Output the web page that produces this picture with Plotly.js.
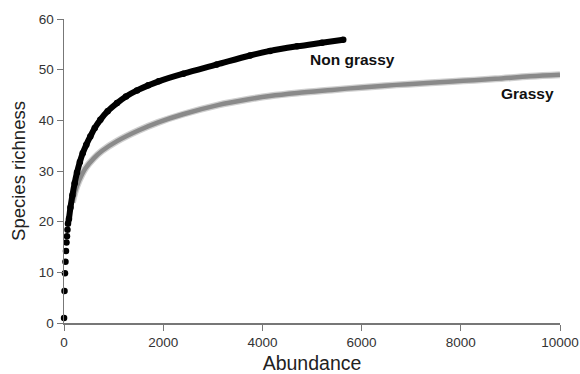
<!DOCTYPE html>
<html>
<head>
<meta charset="utf-8">
<script src="https://cdn.plot.ly/plotly-3.0.1.min.js"></script>
<style>html,body{margin:0;padding:0;background:#fff;}#chart{width:580px;height:374px;}</style>
</head>
<body>
<div id="chart"></div>
<script>
// Non grassy rarefaction curve (abundance, species richness)
const nonGrassyN = [1, 10, 20, 30, 40, 50, 60, 70, 80, 100, 130, 170, 215, 262, 320, 377, 450, 530, 620, 732, 880, 1069, 1250, 1472, 1700, 1909, 2406, 3078, 3750, 4153, 4700, 5200, 5630];
const nonGrassyS = [1, 6.3, 9.8, 12.1, 14.2, 15.9, 17.1, 18.4, 19.6, 20.6, 22.8, 25.2, 27.6, 29.7, 31.8, 33.5, 35.2, 36.8, 38.5, 40.1, 41.8, 43.4, 44.7, 45.9, 46.9, 47.7, 49.2, 51.0, 52.8, 53.7, 54.6, 55.3, 55.9];
// Grassy rarefaction curve
const grassyN = [1, 10, 20, 40, 60, 80, 100, 130, 170, 220, 300, 430, 600, 770, 1070, 1500, 1900, 2400, 3100, 3750, 4150, 4700, 5400, 6000, 6700, 7400, 8050, 8700, 9400, 10000];
const grassyS = [1, 6, 9.5, 13.5, 16.3, 18.5, 20, 21.8, 23.8, 25.8, 28, 30.5, 32.5, 34.0, 35.9, 38, 39.6, 41.2, 43.0, 44.2, 44.8, 45.4, 46.0, 46.5, 47.0, 47.4, 47.8, 48.2, 48.7, 49.0];
const xTicks = [0, 2000, 4000, 6000, 8000, 10000];
const yTicks = [0, 10, 20, 30, 40, 50, 60];

const lineStart = 8; // earliest points appear as separate dots
const traces = [
  {x: grassyN.slice(lineStart), y: grassyS.slice(lineStart), mode: 'lines', line: {color: '#cfcfcf', width: 7, shape: 'spline'}, hoverinfo: 'skip', cliponaxis: false},
  {x: grassyN.slice(lineStart), y: grassyS.slice(lineStart), mode: 'lines', line: {color: '#8a8a8a', width: 4.5, shape: 'spline'}, cliponaxis: false},
  {x: nonGrassyN, y: nonGrassyS, mode: 'markers', marker: {color: '#000', size: 6.5}, cliponaxis: false},
  {x: nonGrassyN.slice(lineStart), y: nonGrassyS.slice(lineStart), mode: 'lines', line: {color: '#000', width: 6, shape: 'spline'}, cliponaxis: false}
];

const font = {family: 'Liberation Sans, Arial, sans-serif', color: '#222'};
const layout = {
  width: 580, height: 374,
  margin: {l: 64, r: 20, t: 19, b: 51},
  paper_bgcolor: '#fff', plot_bgcolor: '#fff',
  showlegend: false,
  font: font,
  xaxis: {
    range: [0, 10000], tickvals: xTicks, ticktext: xTicks.map(String),
    ticks: 'outside', ticklen: 6, tickcolor: '#777', tickwidth: 1,
    showline: true, linecolor: '#777', linewidth: 1.5,
    showgrid: false, zeroline: false,
    tickfont: {size: 13.5, color: '#333'},
    title: {text: 'Abundance', font: {size: 19.5, color: '#222'}, standoff: 9}
  },
  yaxis: {
    range: [0, 60], tickvals: yTicks, ticktext: yTicks.map(String),
    ticks: 'outside', ticklen: 6, tickcolor: '#777', tickwidth: 1,
    showline: true, linecolor: '#777', linewidth: 1.5,
    showgrid: false, zeroline: false,
    tickfont: {size: 13.5, color: '#333'},
    title: {text: 'Species richness', font: {size: 18.5, color: '#222'}, standoff: 8}
  },
  xaxis2: {overlaying: 'x', anchor: 'y', side: 'bottom', range: [0, 10000], tickvals: xTicks,
    ticks: 'inside', ticklen: 6, tickcolor: '#777', showticklabels: false, showline: false, showgrid: false, zeroline: false},
  yaxis2: {overlaying: 'y', anchor: 'x', side: 'left', range: [0, 60], tickvals: yTicks,
    ticks: 'inside', ticklen: 6, tickcolor: '#777', showticklabels: false, showline: false, showgrid: false, zeroline: false},
  annotations: [
    {x: nonGrassyN[nonGrassyN.length - 1], y: nonGrassyS[nonGrassyS.length - 1], xref: 'x', yref: 'y', text: '<b>Non grassy</b>',
     showarrow: false, xanchor: 'center', yanchor: 'middle', xshift: 9, yshift: -20, font: {size: 15.5, color: '#111'}},
    {x: grassyN[grassyN.length - 1], y: grassyS[grassyS.length - 1], xref: 'x', yref: 'y', text: '<b>Grassy</b>',
     showarrow: false, xanchor: 'center', yanchor: 'middle', xshift: -33, yshift: -19, font: {size: 15.5, color: '#111'}}
  ]
};

Plotly.newPlot('chart', traces, layout, {staticPlot: true, displayModeBar: false});
</script>
</body>
</html>
